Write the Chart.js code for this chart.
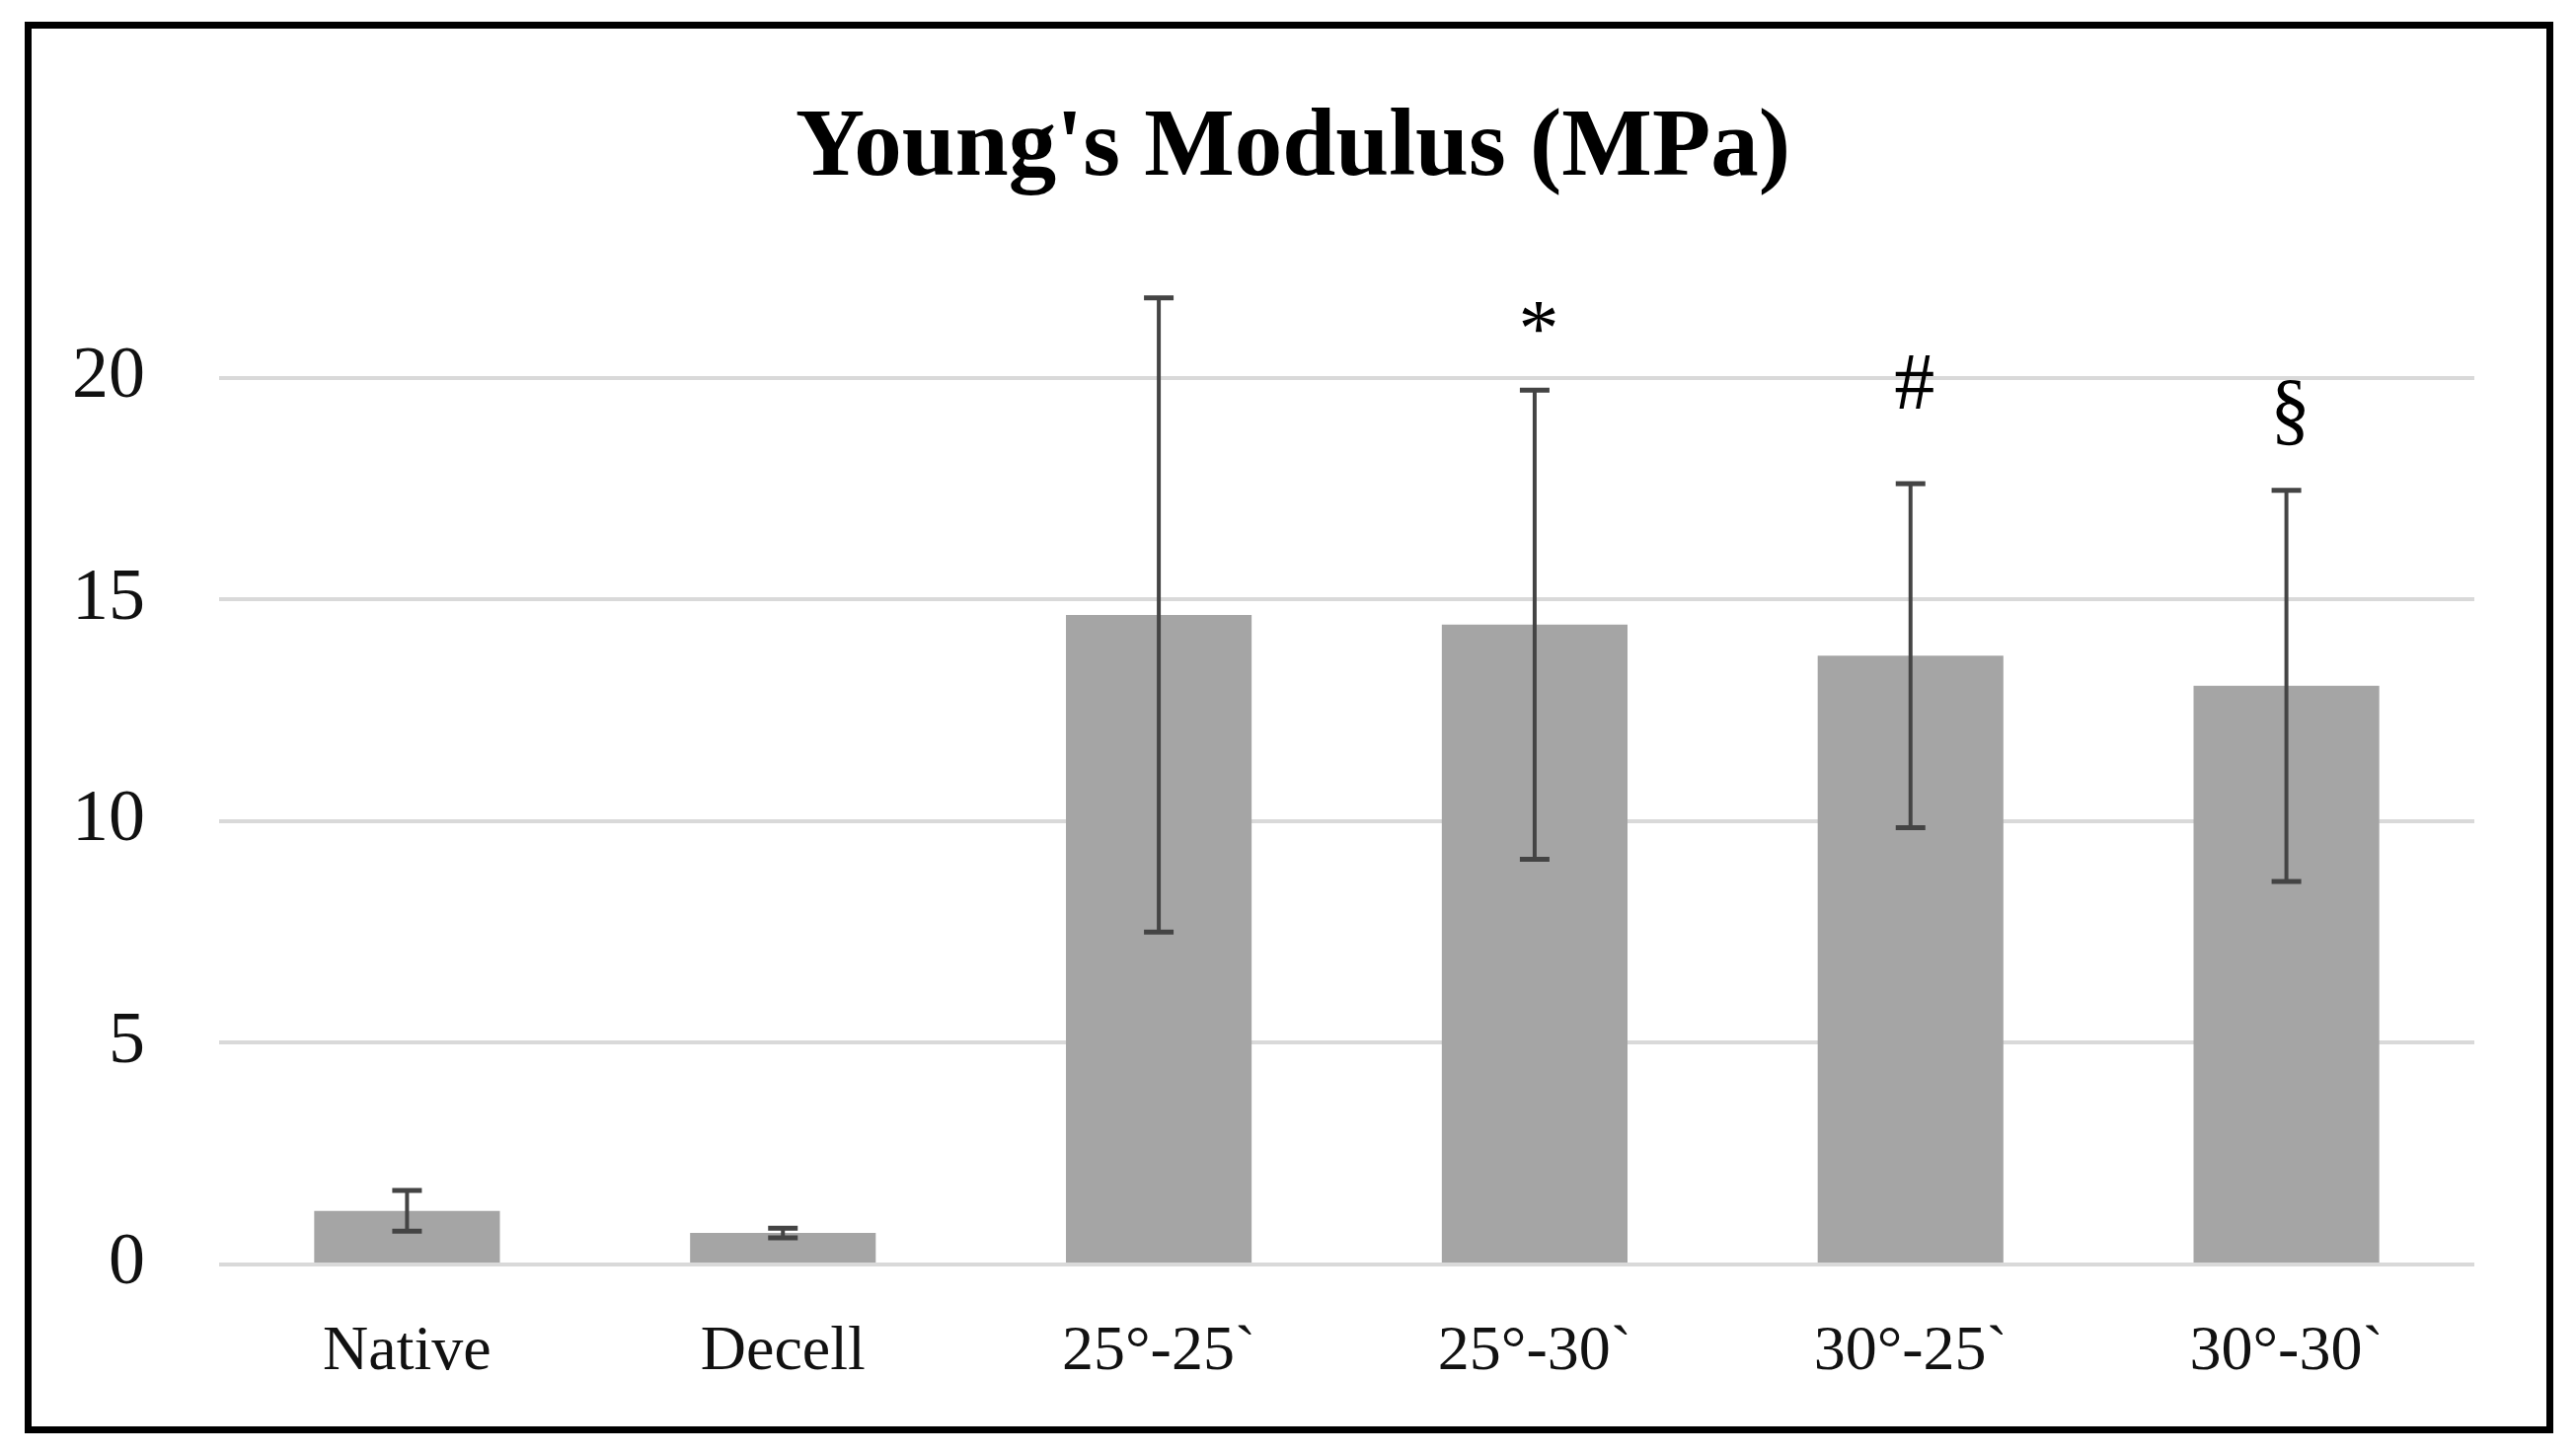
<!DOCTYPE html>
<html>
<head>
<meta charset="utf-8">
<script src="https://cdn.jsdelivr.net/npm/chart.js@4/dist/chart.umd.min.js"></script>
<style>
html,body{margin:0;padding:0;background:#fff;overflow:hidden;}
#frame{position:absolute;left:25px;top:22px;width:2548px;height:1416px;border:7px solid #000;background:#fff;}
#wrap{position:absolute;left:0;top:0;width:2610px;height:1474px;}
</style>
</head>
<body>
<div id="frame"></div>
<div id="wrap"><canvas id="c"></canvas></div>
<script>
// ---- data ----
const categories = ['Native', 'Decell', '25°-25`', '25°-30`', '30°-25`', '30°-30`'];
const means = [1.21, 0.71, 14.65, 14.43, 13.73, 13.05];
const errors = [0.46, 0.11, 7.15, 5.29, 3.88, 4.41];
const marks = ['', '', '', '*', '#', '§'];
const markValues = [0, 0, 0, 20.5, 19.3, 18.7];
const yTicks = [0, 5, 10, 15, 20];
const titleText = "Young's Modulus (MPa)";

const errorBarPlugin = {
  id: 'errorBars',
  afterDatasetsDraw(chart) {
    const ctx = chart.ctx;
    const meta = chart.getDatasetMeta(0);
    const ys = chart.scales.y;
    ctx.save();
    ctx.strokeStyle = '#444444';
    meta.data.forEach((bar, i) => {
      const x = bar.x;
      const t = ys.getPixelForValue(means[i] + errors[i]);
      const b = ys.getPixelForValue(means[i] - errors[i]);
      ctx.lineWidth = 4;
      ctx.beginPath();
      ctx.moveTo(x, t); ctx.lineTo(x, b);
      ctx.stroke();
      ctx.lineWidth = 5;
      ctx.beginPath();
      ctx.moveTo(x - 15, t); ctx.lineTo(x + 15, t);
      ctx.moveTo(x - 15, b); ctx.lineTo(x + 15, b);
      ctx.stroke();
    });
    ctx.fillStyle = '#000';
    ctx.font = '82px "Liberation Serif"';
    ctx.textAlign = 'center';
    ctx.textBaseline = 'alphabetic';
    meta.data.forEach((bar, i) => {
      if (marks[i]) ctx.fillText(marks[i], bar.x + 4, ys.getPixelForValue(markValues[i]));
    });
    ctx.restore();
  }
};

new Chart(document.getElementById('c'), {
  type: 'bar',
  data: {
    labels: categories,
    datasets: [{
      data: means,
      backgroundColor: '#a5a5a5',
      borderWidth: 0,
      barPercentage: 0.494,
      categoryPercentage: 1.0,
      yAxisID: 'y'
    }]
  },
  options: {
    responsive: true,
    maintainAspectRatio: false,
    devicePixelRatio: 1,
    animation: false,
    layout: { padding: { left: 10, right: 0, top: 0, bottom: 0 } },
    plugins: {
      legend: { display: false },
      tooltip: { enabled: false },
      title: {
        display: true,
        text: titleText,
        color: '#000',
        font: { family: '"Liberation Serif"', size: 97, weight: 'bold' },
        padding: { top: 94, bottom: 60 }
      }
    },
    scales: {
      x: {
        grid: { display: false },
        border: { display: false },
        ticks: {
          color: '#111',
          font: { family: '"Liberation Serif"', size: 64 },
          padding: 43,
          maxRotation: 0
        },
        afterFit(scale) { scale.height = 193; }
      },
      y: {
        min: 0,
        max: 22.5,
        border: { display: false },
        grid: { color: '#d9d9d9', lineWidth: 4, drawTicks: false },
        ticks: {
          stepSize: 5,
          color: '#111',
          font: { family: '"Liberation Serif"', size: 74 },
          padding: 75
        },
        afterBuildTicks(scale) {
          scale.ticks = yTicks.map(v => ({ value: v }));
        },
        afterFit(scale) { scale.width = 212; }
      },
      yRight: {
        position: 'right',
        min: 0,
        max: 22.5,
        border: { display: false },
        grid: { display: false, drawTicks: false },
        ticks: { display: false },
        afterFit(scale) { scale.width = 103; }
      }
    }
  },
  plugins: [errorBarPlugin]
});
</script>
</body>
</html>
